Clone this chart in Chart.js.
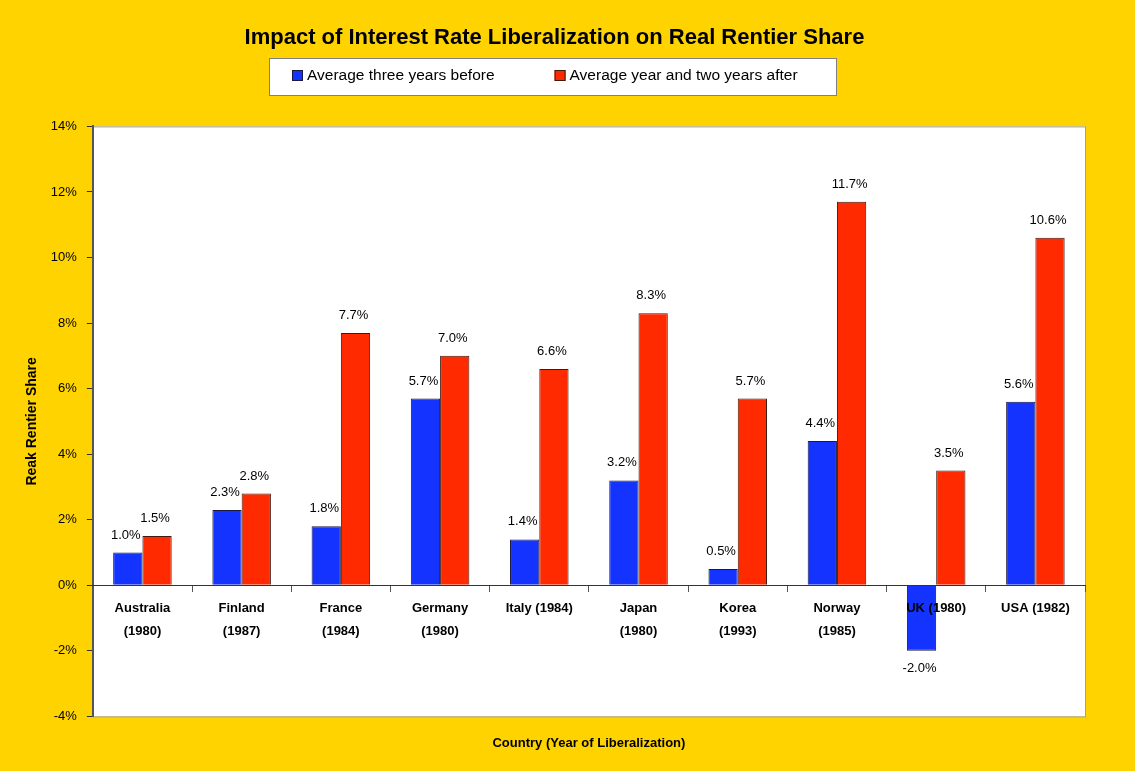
<!DOCTYPE html>
<html>
<head>
<meta charset="utf-8">
<title>Impact of Interest Rate Liberalization on Real Rentier Share</title>
<script src="https://cdn.jsdelivr.net/npm/chart.js@4.4.1/dist/chart.umd.min.js"></script>
<style>
    html, body { margin: 0; padding: 0; background: #FFD300; }
    #wrap { position: relative; width: 1135px; height: 771px; }
</style>
</head>
<body>
<div id="wrap"><canvas id="rentierChart" width="1135" height="771"></canvas></div>
<script>
// ========================================
// Data
// ========================================
const countries = [
    ['Australia', '(1980)'],
    ['Finland', '(1987)'],
    ['France', '(1984)'],
    ['Germany', '(1980)'],
    'Italy (1984)',
    ['Japan', '(1980)'],
    ['Korea', '(1993)'],
    ['Norway', '(1985)'],
    'UK (1980)',
    'USA (1982)'
];
const beforeValues = [1.0, 2.3, 1.8, 5.7, 1.4, 3.2, 0.5, 4.4, -2.0, 5.6];
const afterValues = [1.5, 2.8, 7.7, 7.0, 6.6, 8.3, 5.7, 11.7, 3.5, 10.6];
const seriesNames = ['Average three years before', 'Average year and two years after'];
const yTicks = [-4, -2, 0, 2, 4, 6, 8, 10, 12, 14];

const FONT = 'Arial, "Liberation Sans", Helvetica, sans-serif';

// White plot area with a grey frame
const backgroundPlugin = {
    id: 'backgroundPlugin',
    beforeDraw(chart) {
        const { ctx, chartArea } = chart;
        ctx.save();
        ctx.fillStyle = '#FFFFFF';
        ctx.fillRect(chartArea.left, chartArea.top, chartArea.right - chartArea.left, chartArea.bottom - chartArea.top);
        ctx.strokeStyle = '#A0A0A0';
        ctx.lineWidth = 1;
        ctx.strokeRect(chartArea.left + 0.5, chartArea.top + 0.5, chartArea.right - chartArea.left, chartArea.bottom - chartArea.top);
        ctx.restore();
    }
};

// Boxed legend under the title (Excel style)
const boxedLegendPlugin = {
    id: 'boxedLegendPlugin',
    afterDraw(chart) {
        const { ctx } = chart;
        ctx.save();
        ctx.fillStyle = '#FFFFFF';
        ctx.fillRect(269, 58, 567, 37);
        ctx.strokeStyle = '#808080';
        ctx.lineWidth = 1;
        ctx.strokeRect(269.5, 58.5, 567, 37);

        ctx.font = '15.5px ' + FONT;
        ctx.textBaseline = 'middle';
        ctx.textAlign = 'left';
        let x = 292;
        const y = 76;
        chart.data.datasets.forEach(dataset => {
            ctx.fillStyle = dataset.backgroundColor;
            ctx.fillRect(x, y - 6, 11, 11);
            ctx.strokeStyle = dataset.borderColor;
            ctx.strokeRect(x + 0.5, y - 5.5, 10, 10);
            ctx.fillStyle = '#000000';
            ctx.fillText(dataset.label, x + 15, y);
            x += 15 + ctx.measureText(dataset.label).width + 60;
        });
        ctx.restore();
    }
};

// Value labels above (or below) each bar
const valueLabelPlugin = {
    id: 'valueLabelPlugin',
    afterDatasetsDraw(chart) {
        const { ctx } = chart;
        ctx.save();
        ctx.font = '13px ' + FONT;
        ctx.fillStyle = '#000000';
        ctx.textAlign = 'center';
        chart.data.datasets.forEach((dataset, i) => {
            const meta = chart.getDatasetMeta(i);
            meta.data.forEach((bar, j) => {
                const value = dataset.data[j];
                const text = value.toFixed(1) + '%';
                if (value >= 0) {
                    ctx.textBaseline = 'bottom';
                    ctx.fillText(text, bar.x - 2, bar.y - 11);
                } else {
                    ctx.textBaseline = 'top';
                    ctx.fillText(text, bar.x - 2, bar.y + 11);
                }
            });
        });
        ctx.restore();
    }
};

function initChart() {
    const ctx = document.getElementById('rentierChart');
    new Chart(ctx, {
        type: 'bar',
        data: {
            labels: countries,
            datasets: [
                {
                    label: seriesNames[0],
                    data: beforeValues,
                    backgroundColor: '#1433FF',
                    borderColor: '#1A1A40',
                    borderWidth: 1
                },
                {
                    label: seriesNames[1],
                    data: afterValues,
                    backgroundColor: '#FF2A00',
                    borderColor: '#401A10',
                    borderWidth: 1
                }
            ]
        },
        options: {
            responsive: false,
            animation: false,
            layout: {
                padding: { left: 24, right: 50, top: 0, bottom: 20 }
            },
            datasets: {
                bar: {
                    barPercentage: 1.0,
                    categoryPercentage: 0.59
                }
            },
            plugins: {
                title: {
                    display: true,
                    text: 'Impact of Interest Rate Liberalization on Real Rentier Share',
                    color: '#000000',
                    font: { family: FONT, size: 22, weight: 'bold' },
                    padding: { top: 25, bottom: 75 }
                },
                legend: { display: false },
                tooltip: { enabled: false }
            },
            scales: {
                x: {
                    position: { y: 0 },
                    grid: {
                        offset: true,
                        drawOnChartArea: false,
                        drawTicks: true,
                        tickLength: 6,
                        color: '#555555',
                        z: 1
                    },
                    border: { display: true, color: '#333333', width: 1, z: 1 },
                    ticks: {
                        color: '#000000',
                        padding: 6,
                        maxRotation: 0,
                        autoSkip: false,
                        z: 1,
                        font: { family: FONT, size: 13, weight: 'bold', lineHeight: 1.75 }
                    }
                },
                xTitle: {
                    type: 'category',
                    labels: countries,
                    position: 'bottom',
                    grid: { display: false },
                    border: { display: false },
                    ticks: { display: false },
                    title: {
                        display: true,
                        text: 'Country (Year of Liberalization)',
                        color: '#000000',
                        font: { family: FONT, size: 13, weight: 'bold' },
                        padding: { top: 11, bottom: 0 }
                    }
                },
                y: {
                    min: yTicks[0],
                    max: yTicks[yTicks.length - 1],
                    afterBuildTicks(scale) {
                        scale.ticks = yTicks.map(v => ({ value: v }));
                    },
                    grid: {
                        drawOnChartArea: false,
                        drawTicks: true,
                        tickLength: 6,
                        color: '#333333'
                    },
                    border: { display: true, color: '#555555', width: 2 },
                    ticks: {
                        color: '#000000',
                        padding: 10,
                        font: { family: FONT, size: 13 },
                        callback: v => v + '%'
                    },
                    title: {
                        display: true,
                        text: 'Reak Rentier Share',
                        color: '#000000',
                        font: { family: FONT, size: 14, weight: 'bold' },
                        padding: { top: 0, bottom: 0 }
                    }
                }
            }
        },
        plugins: [backgroundPlugin, valueLabelPlugin, boxedLegendPlugin]
    });
}

document.addEventListener('DOMContentLoaded', function () {
    initChart();
});
</script>
</body>
</html>
